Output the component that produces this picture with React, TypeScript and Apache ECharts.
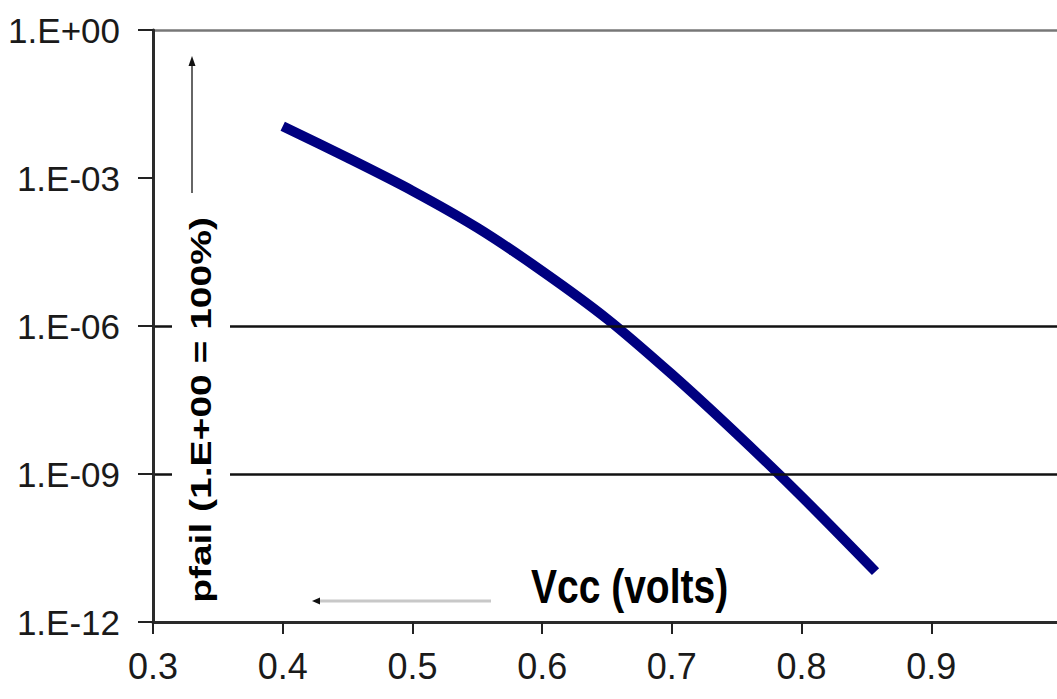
import React, { useEffect, useRef } from "react";
import * as echarts from "echarts";

// Data
const vcc = [0.40, 0.45, 0.50, 0.55, 0.60, 0.65, 0.70, 0.75, 0.80, 0.857];
const pfail = [1.12e-2, 2.57e-3, 5.5e-4, 9.8e-5, 1.3e-5, 1.4e-6, 1.05e-7, 6.5e-9, 3.5e-10, 1.05e-11];

const xTickLabels = ["0.3", "0.4", "0.5", "0.6", "0.7", "0.8", "0.9"];
const yTickValues = [1e-12, 1e-9, 1e-6, 1e-3, 1];
const yTickLabels = ["1.E-12", "1.E-09", "1.E-06", "1.E-03", "1.E+00"];
// gridline colour per y tick (1E-12 .. 1E+00); the 1E-03 line is absent in the reference
const yGridColors = ["rgba(0,0,0,0)", "#111111", "#111111", "rgba(0,0,0,0)", "#777777"];

const xTitle = "Vcc (volts)";
const yTitle = "pfail (1.E+00 = 100%)";

const SANS = "'Liberation Sans', Arial, sans-serif";

export default function App() {
  const ref = useRef<HTMLDivElement>(null);

  useEffect(() => {
    if (!ref.current) return;
    const chart = echarts.init(ref.current, undefined, { renderer: "svg" });
    const option: any = {
      animation: false,
      backgroundColor: "#ffffff",
      grid: {
        left: 153,
        top: 30,
        width: 908,
        height: 592,
        containLabel: false,
        outerBoundsMode: "none",
      },
      xAxis: {
        type: "value",
        min: 0.3,
        max: 1.0,
        interval: 0.1,
        splitLine: { show: false },
        axisLine: { show: true, onZero: false, lineStyle: { color: "#2a2a2a", width: 3 } },
        axisTick: { show: true, length: 12, lineStyle: { color: "#222", width: 2 } },
        axisLabel: {
          margin: 26,
          color: "#1a1a1a",
          fontFamily: SANS,
          fontSize: 36,
          formatter: (v: number) => {
            const i = Math.round((v - 0.3) / 0.1);
            return xTickLabels[i] ?? "";
          },
        },
        z: 4,
      },
      yAxis: {
        type: "log",
        logBase: 10,
        min: 1e-12,
        max: 1,
        interval: 3,
        splitLine: {
          show: true,
          showMinLine: true,
          showMaxLine: true,
          lineStyle: { color: yGridColors, width: 2.5, type: "solid" },
        },
        axisLine: { show: true, lineStyle: { color: "#2a2a2a", width: 3 } },
        axisTick: { show: true, length: 15, lineStyle: { color: "#222", width: 2 } },
        axisLabel: {
          margin: 33,
          color: "#1a1a1a",
          fontFamily: SANS,
          fontSize: 35,
          formatter: (v: number) => {
            const e = Math.round(Math.log10(v));
            const i = yTickValues.findIndex((t) => Math.round(Math.log10(t)) === e);
            return i >= 0 ? yTickLabels[i] : "";
          },
        },
        z: 4,
      },
      series: [
        {
          type: "line",
          data: vcc.map((x, i) => [x, pfail[i]]),
          smooth: 0.3,
          showSymbol: false,
          symbol: "none",
          lineStyle: { color: "#000080", width: 10, cap: "butt" },
          z: 3,
        },
      ],
      graphic: [
        {
          type: "text",
          z: 100,
          x: 201,
          y: 410,
          rotation: Math.PI / 2,
          scaleX: 1.3,
          style: {
            text: yTitle,
            font: `bold 30px ${SANS}`,
            fill: "#000",
            align: "center",
            verticalAlign: "middle",
            backgroundColor: "#fff",
            padding: [14, 6, 14, 6],
          },
        },
        {
          type: "line",
          z: 100,
          shape: { x1: 192, y1: 64, x2: 192, y2: 193 },
          style: { stroke: "#666", lineWidth: 2 },
        },
        {
          type: "polygon",
          z: 100,
          shape: { points: [[192, 56], [188.5, 66], [195.5, 66]] },
          style: { fill: "#111" },
        },
        {
          type: "line",
          z: 100,
          shape: { x1: 318, y1: 601, x2: 491, y2: 601 },
          style: { stroke: "#c8c8c8", lineWidth: 3 },
        },
        {
          type: "polygon",
          z: 100,
          shape: { points: [[312, 601], [320, 597.5], [320, 604.5]] },
          style: { fill: "#111" },
        },
        {
          type: "text",
          z: 100,
          x: 531,
          y: 586,
          scaleY: 1.25,
          style: {
            text: xTitle,
            font: `bold 39px ${SANS}`,
            fill: "#000",
            align: "left",
            verticalAlign: "middle",
          },
        },
      ],
    };
    chart.setOption(option);
    return () => chart.dispose();
  }, []);

  return (
    <div
      ref={ref}
      style={{ position: "fixed", left: 0, top: 0, width: 1057, height: 699, background: "#fff" }}
    />
  );
}
